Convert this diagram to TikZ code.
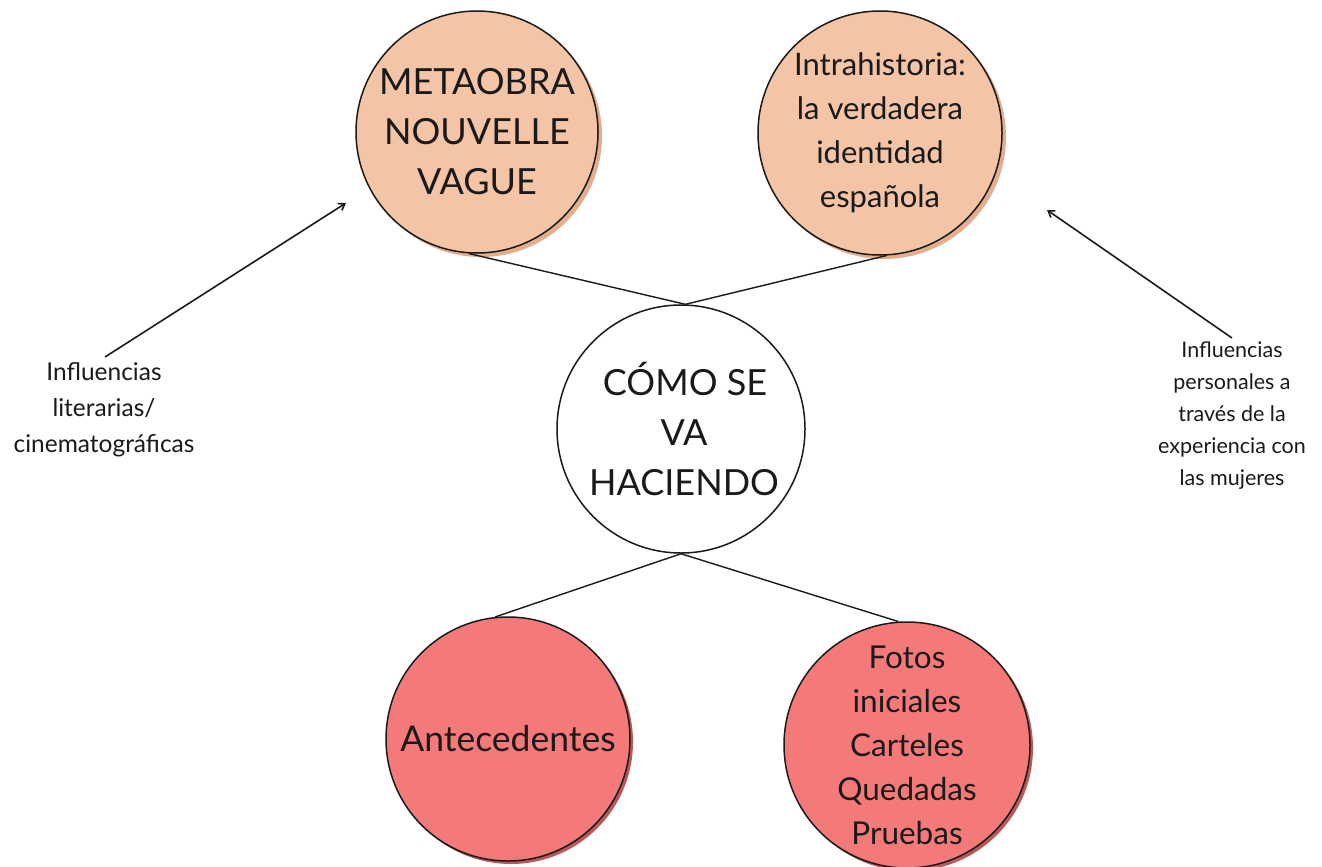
\documentclass[tikz,border=0pt]{standalone}
\usepackage{fontspec}
\setmainfont{Lato}
\usetikzlibrary{arrows.meta,shadows}
\definecolor{peach}{HTML}{F3C4A6}
\definecolor{peachsh}{HTML}{E2AE8E}
\definecolor{salmon}{HTML}{F47A7A}
\definecolor{salmonsh}{HTML}{B85A5A}
\definecolor{ink}{HTML}{1A1A1A}
\tikzset{
  bubble/.style={circle, draw=ink, line width=1.5pt, inner sep=0pt, align=center, text=ink},
  peachbubble/.style={bubble, fill=peach, drop shadow={shadow xshift=4pt, shadow yshift=-4pt, fill=peachsh, opacity=1}},
  salmonbubble/.style={bubble, fill=salmon, drop shadow={shadow xshift=3pt, shadow yshift=-3pt, fill=salmonsh, opacity=1}},
  link/.style={draw=ink, line width=1.4pt},
  pointer/.style={draw=ink, line width=1.6pt, -{Straight Barb[length=6pt,width=8pt]}},
  note/.style={align=center, text=ink}
}
\begin{document}
\begin{tikzpicture}[x=1pt,y=-1pt]
\useasboundingbox (0,0) rectangle (1322,867);
\fill[white] (0,0) rectangle (1322,867);

\node[peachbubble, minimum size=242pt, font=\fontsize{36}{50}\selectfont] (tl) at (477,132) {METAOBRA\\NOUVELLE\\VAGUE};
\node[peachbubble, minimum size=244pt, font=\fontsize{31}{44}\selectfont] (tr) at (880,133) {Intrahistoria:\\la verdadera\\identidad\\española};
\node[bubble, fill=white, minimum size=248pt, font=\fontsize{36}{50}\selectfont] (mid) at (681,429) {\hspace*{8pt}CÓMO SE\\\hspace*{6pt}VA\\\hspace*{6pt}HACIENDO};
\node[salmonbubble, minimum size=244pt, font=\fontsize{35.5}{50}\selectfont] (bl) at (508,739) {Antecedentes};
\node[salmonbubble, minimum size=246pt, font=\fontsize{31.5}{44}\selectfont] (br) at (907,745) {Fotos\\iniciales\\Carteles\\Quedadas\\Pruebas};

\draw[link] (tl.266) -- (mid.88);
\draw[link] (tr.273) -- (mid.88);
\draw[link] (mid.270) -- (bl.96);
\draw[link] (mid.270) -- (br.94);

\node[note, font=\fontsize{24.5}{36}\selectfont] (ln) at (104,410) {Influencias\\literarias/\\cinematográficas};
\node[note, font=\fontsize{21.5}{32}\selectfont] (rn) at (1232,416) {Influencias\\personales a\\través de la\\experiencia con\\las mujeres};

\coordinate (la) at (105,357);
\coordinate (lb) at (346,203);
\coordinate (ra) at (1232,338);
\coordinate (rb) at (1047,210);
\draw[pointer] (la) -- (lb);
\draw[pointer] (ra) -- (rb);
\end{tikzpicture}
\end{document}
